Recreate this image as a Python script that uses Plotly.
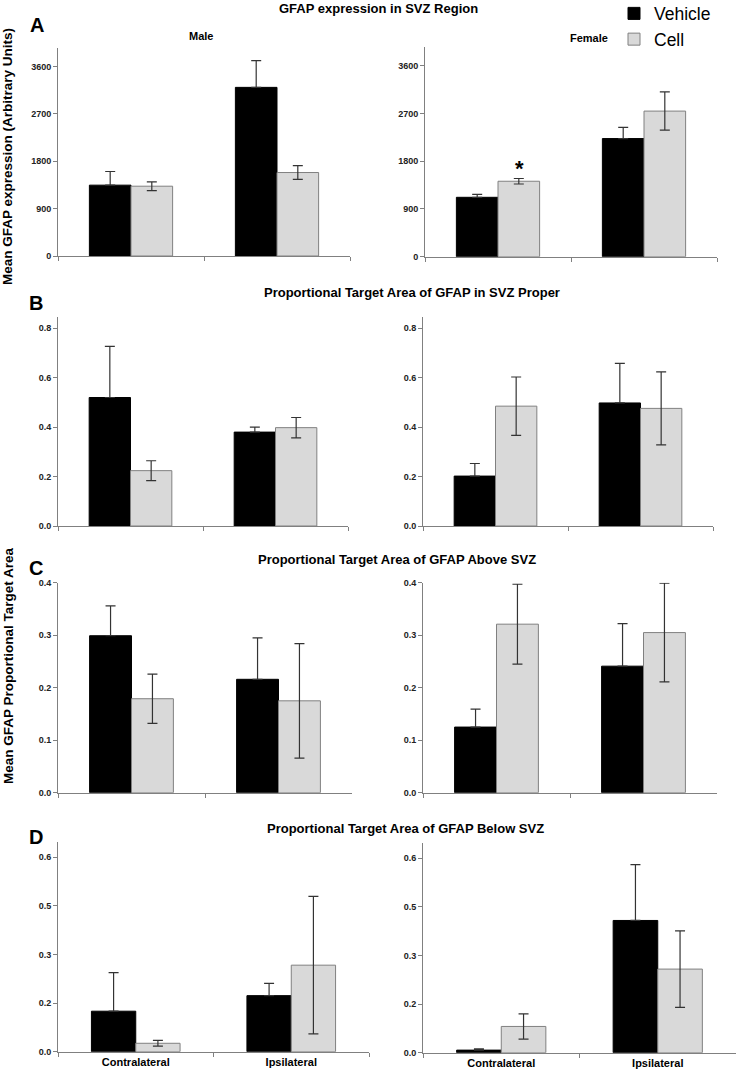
import plotly.graph_objects as go

W, H = 737, 1070

categories = ["Contralateral", "Ipsilateral"]
series_names = ["Vehicle", "Cell"]

# Panel A: GFAP expression in SVZ Region (arbitrary units)
a_male_vehicle = [1347, 3206]
a_male_vehicle_err = [259, 508]
a_male_cell = [1327, 1587]
a_male_cell_err = [83, 130]
a_female_vehicle = [1120, 2228]
a_female_vehicle_err = [57, 209]
a_female_cell = [1423, 2746]
a_female_cell_err = [52, 361]

# Panel B: Proportional Target Area of GFAP in SVZ Proper
b_male_vehicle = [0.520, 0.380]
b_male_vehicle_err = [0.207, 0.020]
b_male_cell = [0.224, 0.398]
b_male_cell_err = [0.040, 0.041]
b_female_vehicle = [0.202, 0.498]
b_female_vehicle_err = [0.051, 0.160]
b_female_cell = [0.485, 0.476]
b_female_cell_err = [0.118, 0.148]

# Panel C: Proportional Target Area of GFAP Above SVZ
c_male_vehicle = [0.299, 0.216]
c_male_vehicle_err = [0.057, 0.079]
c_male_cell = [0.179, 0.175]
c_male_cell_err = [0.047, 0.109]
c_female_vehicle = [0.125, 0.241]
c_female_vehicle_err = [0.034, 0.081]
c_female_cell = [0.321, 0.305]
c_female_cell_err = [0.076, 0.094]

# Panel D: Proportional Target Area of GFAP Below SVZ
d_male_vehicle = [0.125, 0.173]
d_male_vehicle_err = [0.119, 0.038]
d_male_cell = [0.026, 0.267]
d_male_cell_err = [0.009, 0.212]
d_female_vehicle = [0.008, 0.408]
d_female_vehicle_err = [0.004, 0.172]
d_female_cell = [0.081, 0.258]
d_female_cell_err = [0.039, 0.118]

a_ticks = [0, 900, 1800, 2700, 3600]
b_ticks = [0.0, 0.2, 0.4, 0.6, 0.8]
c_ticks = [0.0, 0.1, 0.2, 0.3, 0.4]
d_ticks = [0.0, 0.15, 0.30, 0.45, 0.60]
d_ticktext = ["0.0", "0.2", "0.3", "0.5", "0.6"]

panel_titles = ["GFAP expression in SVZ Region",
                "Proportional Target Area of GFAP in SVZ Proper",
                "Proportional Target Area of GFAP Above SVZ",
                "Proportional Target Area of GFAP Below SVZ"]
panel_letters = ["A", "B", "C", "D"]
y_titles = ["Mean GFAP expression (Arbitrary Units)", "Mean GFAP Proportional Target Area"]

FONT = "Liberation Sans, Arial, sans-serif"

def px(x):
    return x / W

def py(y):
    return 1 - y / H

# (x0, x1, ytop, ybottom) in pixels for each subplot
domains = [
    (58, 350, 47.7, 256), (425, 717, 46.7, 256.7),
    (58, 348, 316.7, 526), (423, 713, 316.7, 526),
    (58, 352, 582.7, 792.7), (423, 717, 582.7, 792.7),
    (58, 369, 842, 1051.7), (423, 736, 843, 1052.7),
]

subplots = [
    (a_male_vehicle, a_male_vehicle_err, a_male_cell, a_male_cell_err),
    (a_female_vehicle, a_female_vehicle_err, a_female_cell, a_female_cell_err),
    (b_male_vehicle, b_male_vehicle_err, b_male_cell, b_male_cell_err),
    (b_female_vehicle, b_female_vehicle_err, b_female_cell, b_female_cell_err),
    (c_male_vehicle, c_male_vehicle_err, c_male_cell, c_male_cell_err),
    (c_female_vehicle, c_female_vehicle_err, c_female_cell, c_female_cell_err),
    (d_male_vehicle, d_male_vehicle_err, d_male_cell, d_male_cell_err),
    (d_female_vehicle, d_female_vehicle_err, d_female_cell, d_female_cell_err),
]

yranges = [[0, 3960], [0, 0.847], [0, 0.4], [0, 0.647]]
yticks = [a_ticks, b_ticks, c_ticks, d_ticks]
ytext = [[str(v) for v in a_ticks], ["%.1f" % v for v in b_ticks],
         ["%.1f" % v for v in c_ticks], d_ticktext]

fig = go.Figure()
layout = {}
for i, (veh, veh_err, cell, cell_err) in enumerate(subplots):
    n = i + 1
    xa = "x" if n == 1 else "x%d" % n
    ya = "y" if n == 1 else "y%d" % n
    # the lower half of the vehicle error bar is hidden inside the black bar
    fig.add_trace(go.Bar(
        x=categories, y=veh, name=series_names[0], xaxis=xa, yaxis=ya,
        marker=dict(color="black", line=dict(color="black", width=1)),
        error_y=dict(type="data", symmetric=False, array=veh_err,
                     arrayminus=[0] * len(veh_err), visible=True, color="#333333",
                     thickness=1.2, width=5),
        showlegend=(n == 1), legendgroup="veh"))
    fig.add_trace(go.Bar(
        x=categories, y=cell, name=series_names[1], xaxis=xa, yaxis=ya,
        marker=dict(color="#d9d9d9", line=dict(color="#808080", width=1)),
        error_y=dict(type="data", array=cell_err, visible=True, color="#333333",
                     thickness=1.2, width=5),
        showlegend=(n == 1), legendgroup="cell"))
    x0, x1, yt, yb = domains[i]
    row = i // 2
    layout["xaxis" if n == 1 else "xaxis%d" % n] = dict(
        domain=[px(x0), px(x1)], anchor=ya, type="category",
        range=[-0.5, 1.5], showline=True, linecolor="#808080", linewidth=1,
        ticks="outside", tickson="boundaries", ticklen=4, tickcolor="#808080",
        showgrid=False, zeroline=False,
        showticklabels=(row == 3),
        tickfont=dict(family=FONT, size=11, color="black", weight="bold"))
    layout["yaxis" if n == 1 else "yaxis%d" % n] = dict(
        domain=[py(yb), py(yt)], anchor=xa, range=yranges[row],
        tickmode="array", tickvals=yticks[row], ticktext=ytext[row],
        showline=True, linecolor="#808080", linewidth=1,
        ticks="outside", ticklen=4, tickcolor="#808080",
        showgrid=False, zeroline=False,
        tickfont=dict(family=FONT, size=9, color="#222222", weight="bold"))

annotations = []
title_pos = [(378, 9), (412, 293), (397, 559), (405, 828)]
for (tx, ty), t in zip(title_pos, panel_titles):
    annotations.append(dict(xref="paper", yref="paper", x=px(tx), y=py(ty), text=t,
                            showarrow=False, xanchor="center", yanchor="middle",
                            font=dict(family=FONT, size=13, color="black", weight="bold")))
letter_pos = [(36.5, 25), (36, 303), (36, 568), (35.5, 837)]
for (lx, ly), t in zip(letter_pos, panel_letters):
    annotations.append(dict(xref="paper", yref="paper", x=px(lx), y=py(ly), text=t,
                            showarrow=False, xanchor="center", yanchor="middle",
                            font=dict(family=FONT, size=20, color="black", weight="bold")))
for (sx, sy), t in zip([(201, 36), (589, 38.5)], ["Male", "Female"]):
    annotations.append(dict(xref="paper", yref="paper", x=px(sx), y=py(sy), text=t,
                            showarrow=False, xanchor="center", yanchor="middle",
                            font=dict(family=FONT, size=11, color="black", weight="bold")))
for (yx, yy), t in zip([(8, 157), (8, 666)], y_titles):
    annotations.append(dict(xref="paper", yref="paper", x=px(yx), y=py(yy), text=t,
                            showarrow=False, textangle=-90, xanchor="center", yanchor="middle",
                            font=dict(family=FONT, size=13.5, color="black", weight="bold")))
# significance marker above female contralateral cell bar
annotations.append(dict(xref="x2", yref="y2", x=categories[0],
                        y=a_female_cell[0] + a_female_cell_err[0],
                        text="*", showarrow=False, xshift=21, yanchor="bottom", yshift=-5,
                        font=dict(family=FONT, size=22, color="black", weight="bold")))

layout.update(dict(
    width=W, height=H, margin=dict(l=0, r=0, t=0, b=0, autoexpand=False),
    paper_bgcolor="white", plot_bgcolor="white",
    barmode="group", bargap=0.43, bargroupgap=0,
    showlegend=True,
    legend=dict(x=px(614), y=py(-4.5), xanchor="left", yanchor="top",
                font=dict(family=FONT, size=17.5, color="black"),
                bgcolor="rgba(0,0,0,0)", tracegroupgap=0, itemwidth=30),
    annotations=annotations,
))
fig.update_layout(**layout)
fig.write_html("out.html", config={"displayModeBar": False},
               post_script="document.body.style.margin='0';document.body.style.overflow='hidden';")
